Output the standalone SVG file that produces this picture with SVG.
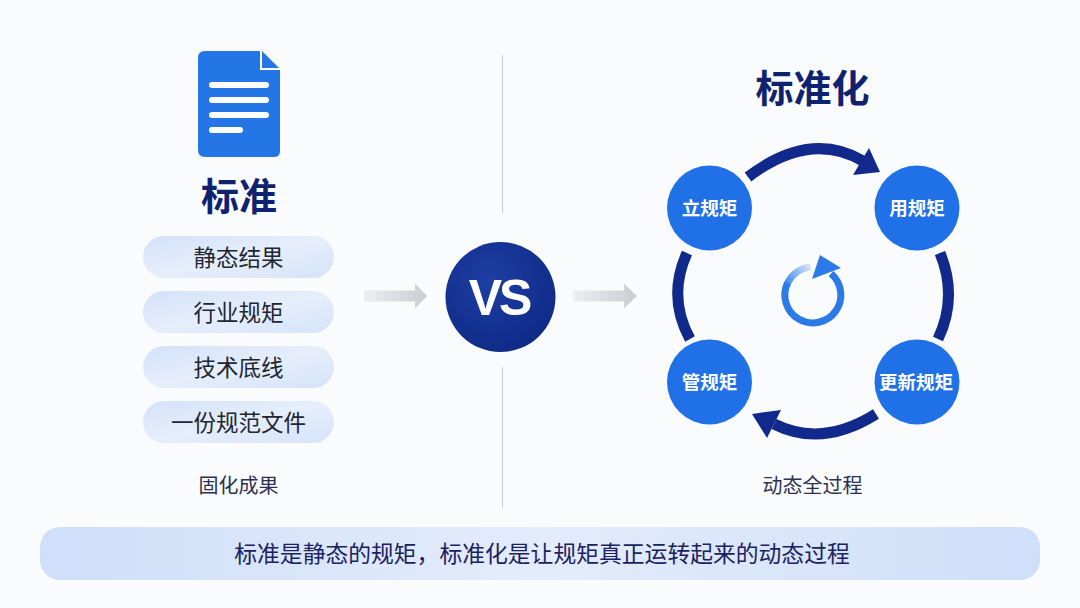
<svg xmlns="http://www.w3.org/2000/svg" width="1080" height="608" viewBox="0 0 1080 608">
  <defs>
    <linearGradient id="pillGrad" x1="0" y1="0" x2="1" y2="1">
      <stop offset="0" stop-color="#d3e1f9"/>
      <stop offset="0.5" stop-color="#e6eefb"/>
      <stop offset="1" stop-color="#d5e3f9"/>
    </linearGradient>
    <linearGradient id="bannerGrad" x1="0" y1="0" x2="1" y2="0">
      <stop offset="0" stop-color="#cfdff9"/>
      <stop offset="0.5" stop-color="#e3ecfb"/>
      <stop offset="1" stop-color="#cfdff9"/>
    </linearGradient>
    <linearGradient id="greyArrow" x1="0" y1="0" x2="1" y2="0">
      <stop offset="0" stop-color="#eceef1"/>
      <stop offset="1" stop-color="#c9cdd4"/>
    </linearGradient>
    <radialGradient id="vsGrad" cx="0.4" cy="0.35" r="0.7">
      <stop offset="0" stop-color="#1d3ea3"/>
      <stop offset="1" stop-color="#0f2a86"/>
    </radialGradient>
    <linearGradient id="loopFade" gradientUnits="userSpaceOnUse" x1="812" y1="267" x2="786" y2="286">
      <stop offset="0" stop-color="#dbe7f8"/>
      <stop offset="1" stop-color="#3a86ea"/>
    </linearGradient>
    <style>
      .cjk { font-family: "Noto Sans CJK SC", "Noto Sans", sans-serif; }
      .title { font-weight: 700; fill: #0f2270; font-size: 38px; text-anchor: middle; }
      .pill { fill: url(#pillGrad); }
      .pilltxt { fill: #222633; font-size: 22.5px; text-anchor: middle; }
      .cap { fill: #2a3152; font-size: 20px; text-anchor: middle; }
      .node { fill: #2071e8; }
      .nodetxt { fill: #ffffff; font-weight: 700; font-size: 18.5px; text-anchor: middle; }
      .cyc { fill: none; stroke: #10298a; stroke-width: 11; }
      .cychead { fill: #10298a; }
      .divider { stroke: #c8cace; stroke-width: 1; }
    </style>
  </defs>

  <rect x="0" y="0" width="1080" height="608" fill="#fafbfc"/>

  <!-- Left: document icon -->
  <g id="doc-icon">
    <path d="M205 51 H260 V70 H280 V151 Q280 157 274 157 H205 Q198 157 198 150 V58 Q198 51 205 51 Z" fill="#2476e6"/>
    <polygon points="262,51 279,68 262,68" fill="#2476e6"/>
    <g stroke="#ffffff" stroke-width="6" stroke-linecap="round">
      <line x1="212" y1="85" x2="266" y2="85"/>
      <line x1="212" y1="100" x2="266" y2="100"/>
      <line x1="212" y1="115" x2="266" y2="115"/>
      <line x1="212" y1="130" x2="240" y2="130"/>
    </g>
  </g>

  <g id="title-standard">
    <text class="cjk title" x="239" y="210">标准</text>
  </g>

  <g id="pill-1">
    <rect class="pill" x="143" y="236" width="191" height="42" rx="21"/>
    <text class="cjk pilltxt" x="238.5" y="265.5">静态结果</text>
  </g>
  <g id="pill-2">
    <rect class="pill" x="143" y="291" width="191" height="42" rx="21"/>
    <text class="cjk pilltxt" x="238.5" y="320.5">行业规矩</text>
  </g>
  <g id="pill-3">
    <rect class="pill" x="143" y="346" width="191" height="42" rx="21"/>
    <text class="cjk pilltxt" x="238.5" y="375.5">技术底线</text>
  </g>
  <g id="pill-4">
    <rect class="pill" x="143" y="401" width="191" height="42" rx="21"/>
    <text class="cjk pilltxt" x="238.5" y="430.5">一份规范文件</text>
  </g>

  <g id="caption-left">
    <text class="cjk cap" x="238.5" y="493">固化成果</text>
  </g>

  <!-- Divider -->
  <g id="divider">
    <line class="divider" x1="502.5" y1="55" x2="502.5" y2="213"/>
    <line class="divider" x1="502.5" y1="367" x2="502.5" y2="508"/>
  </g>

  <!-- Grey arrows -->
  <g id="arrow-left">
    <polygon points="364,290.5 415,290.5 415,283.5 427,296 415,308.5 415,301.5 364,301.5" fill="url(#greyArrow)"/>
  </g>
  <g id="arrow-right">
    <polygon points="573,290.5 624,290.5 624,283.5 637,296 624,308.5 624,301.5 573,301.5" fill="url(#greyArrow)"/>
  </g>

  <!-- VS -->
  <g id="vs">
    <circle cx="500.5" cy="297" r="55" fill="url(#vsGrad)"/>
    <text x="499" y="315" font-family="Liberation Sans, Arial, sans-serif" font-weight="700" font-size="50" letter-spacing="-3" fill="#ffffff" text-anchor="middle">VS</text>
  </g>

  <!-- Right side -->
  <g id="title-standardization">
    <text class="cjk title" x="812.5" y="102">标准化</text>
  </g>

  <g id="connectors">
    <path class="cyc" d="M748 177 Q810 130 863 161"/>
    <polygon class="cychead" points="869,148 880,172 853,175"/>
    <path class="cyc" d="M940 253 Q958 297 938 339"/>
    <path class="cyc" d="M876 414 Q822 448 774 424"/>
    <polygon class="cychead" points="781,410 752,414 767,438"/>
    <path class="cyc" d="M687 253 Q667 297 690 339"/>
  </g>

  <g id="node-li">
    <circle class="node" cx="709.5" cy="208" r="42.5"/>
    <text class="cjk nodetxt" x="709.5" y="214.5">立规矩</text>
  </g>
  <g id="node-yong">
    <circle class="node" cx="917" cy="208" r="42.5"/>
    <text class="cjk nodetxt" x="917" y="214.5">用规矩</text>
  </g>
  <g id="node-guan">
    <circle class="node" cx="709.5" cy="382" r="42.5"/>
    <text class="cjk nodetxt" x="709.5" y="388.5">管规矩</text>
  </g>
  <g id="node-gengxin">
    <circle class="node" cx="917" cy="382" r="42.5"/>
    <text class="cjk nodetxt" x="916" y="388.5">更新规矩</text>
  </g>

  <g id="loop-icon">
    <path d="M810.6 267.1 A28 28 0 0 0 786.7 285.4" fill="none" stroke="url(#loopFade)" stroke-width="7"/>
    <path d="M787.5 283 A28 28 0 1 0 831 273.6" fill="none" stroke="#2a7be8" stroke-width="7"/>
    <polygon points="820,255 841,268 812,279" fill="#2a7be8"/>
  </g>

  <g id="caption-right">
    <text class="cjk cap" x="812.5" y="493">动态全过程</text>
  </g>

  <g id="banner">
    <rect x="40" y="527" width="1000" height="53" rx="20" fill="url(#bannerGrad)"/>
    <text class="cjk" x="542" y="561.5" font-size="22.8" fill="#1c2260" text-anchor="middle">标准是静态的规矩，标准化是让规矩真正运转起来的动态过程</text>
  </g>
</svg>
